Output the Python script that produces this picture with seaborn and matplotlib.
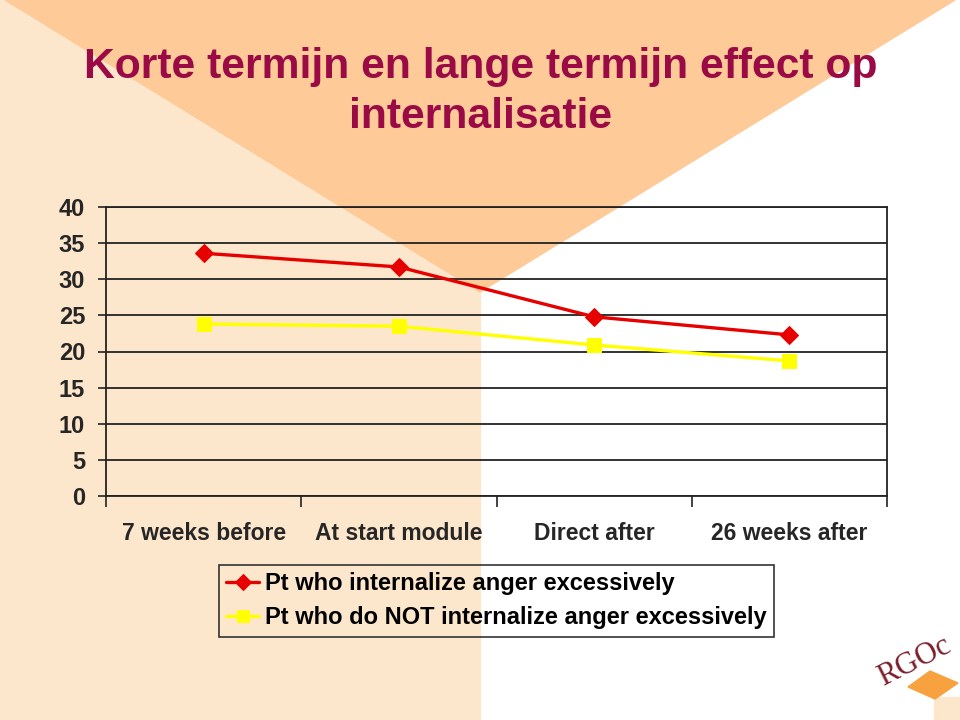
import pandas as pd
import matplotlib
matplotlib.use("Agg")
import matplotlib.pyplot as plt
from matplotlib.patches import Polygon, Rectangle
import seaborn as sns

# Data
categories = ["7 weeks before", "At start module", "Direct after", "26 weeks after"]
internalize = [33.6, 31.7, 24.8, 22.3]
not_internalize = [23.8, 23.5, 20.9, 18.7]
series_names = ["Pt who internalize anger excessively",
                "Pt who do NOT internalize anger excessively"]
y_ticks = [0, 5, 10, 15, 20, 25, 30, 35, 40]

df = pd.DataFrame({
    "pos": list(range(len(categories))) * 2,
    "value": internalize + not_internalize,
    "group": [series_names[0]] * 4 + [series_names[1]] * 4,
})

sns.set_theme(style="white")
plt.rcParams["font.family"] = ["Liberation Sans", "DejaVu Sans"]

fig = plt.figure(figsize=(9.6, 7.2), dpi=100)

# Slide background
bg = fig.add_axes([0, 0, 1, 1], zorder=-1)
bg.set_xlim(0, 960)
bg.set_ylim(720, 0)
bg.axis("off")
bg.add_patch(Rectangle((0, 0), 960, 720, color="white"))
bg.add_patch(Rectangle((0, 0), 480, 720, color="#FDE7CC"))
bg.add_patch(Polygon([(5, 0), (955, 0), (480, 292)], closed=True, color="#FDCA98"))
# logo corner
bg.add_patch(Rectangle((934, 697), 26, 23, color="#FDE7CC"))
bg.add_patch(Polygon([(908, 687), (930, 671), (958, 683), (935, 699)], closed=True, color="#F7A23F"))
bg.text(914, 662, "RGOc", rotation=27, color="#7A1F2B", fontsize=22,
        family="Liberation Serif", ha="center", va="center")

fig.text(0.501, 0.907, "Korte termijn en lange termijn effect op", ha="center", va="center",
         fontsize=30.7, fontweight="bold", color="#9A0B45")
fig.text(0.501, 0.837, "internalisatie", ha="center", va="center",
         fontsize=30.7, fontweight="bold", color="#9A0B45")

ax = fig.add_axes([106 / 960, 1 - 496 / 720, 781 / 960, 289 / 720])
ax.set_facecolor("none")

sns.lineplot(data=df[df["group"] == series_names[0]], x="pos", y="value", ax=ax,
             color="#E60000", marker="D", markersize=9, linewidth=2.4,
             markeredgecolor="#E60000", label=series_names[0])
sns.lineplot(data=df[df["group"] == series_names[1]], x="pos", y="value", ax=ax,
             color="#FFFF00", marker="s", markersize=10, linewidth=2.4,
             markeredgecolor="#FFFF00", label=series_names[1])

ax.set_xlim(-0.5, len(categories) - 0.5)
ax.set_ylim(0, 40)
ax.set_yticks(y_ticks)
ax.set_yticklabels([str(t) for t in y_ticks], fontsize=17, fontweight="bold")
ax.set_xticks([i - 0.5 for i in range(len(categories) + 1)])
ax.set_xticklabels([])
ax.set_xticks(range(len(categories)), minor=True)
ax.set_xticklabels(categories, minor=True, fontsize=16.5, fontweight="bold")
ax.tick_params(axis="x", which="major", bottom=True, length=8, width=1.2,
               color="#222222", direction="out")
ax.tick_params(axis="x", which="minor", bottom=True, length=0, pad=19)
ax.tick_params(axis="y", left=True, length=6, width=1.2, color="#222222",
               direction="out", pad=9)
ax.grid(axis="y", color="#222222", linewidth=1.3)
ax.set_axisbelow(True)
for side in ["left", "bottom", "right", "top"]:
    ax.spines[side].set_visible(True)
    ax.spines[side].set_color("#222222")
    ax.spines[side].set_linewidth(1.3)
ax.set_xlabel("")
ax.set_ylabel("")

leg = ax.legend(loc="upper center", bbox_to_anchor=(0.5, -0.238), frameon=True,
                fancybox=False, framealpha=1, facecolor="none", edgecolor="#333333",
                prop={"size": 17, "weight": "bold"}, handlelength=1.4,
                handletextpad=0.25, borderpad=0.32, labelspacing=0.45,
                borderaxespad=0, markerscale=0.9)
leg.get_frame().set_linewidth(1.2)
for t in leg.get_texts():
    t.set_color("black")

fig.savefig("out.png", dpi=100)
